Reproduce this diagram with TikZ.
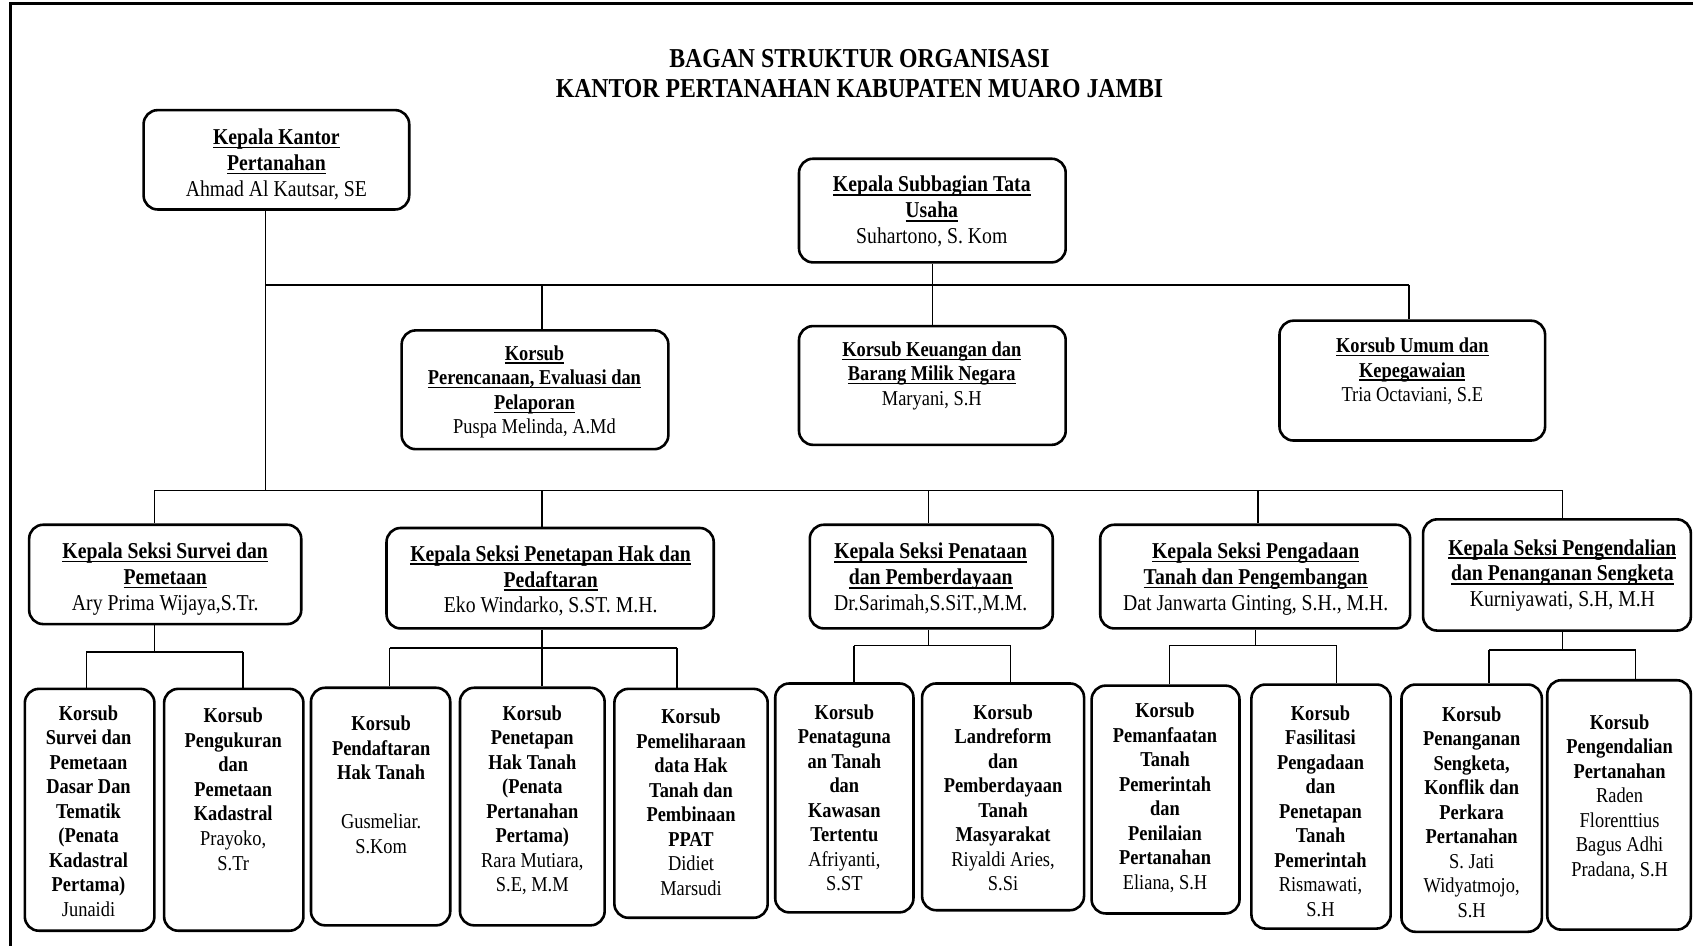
\documentclass[tikz,border=0pt]{standalone}
\usepackage{fontspec}
\setmainfont{Liberation Serif}[FakeStretch=0.87]
\newsavebox\ulbox
\newcommand\ulx[1]{\sbox\ulbox{#1}\rlap{\rule[-0.17em]{\wd\ulbox}{0.065em}}\usebox\ulbox}
\tikzset{
  box/.style={draw, line width=2.4pt, rounded corners=13pt, inner sep=0pt},
  conn/.style={line width=1.3pt},
  txta/.style={align=center, inner sep=0pt, font=\fontsize{21}{24}\selectfont},
  txtb/.style={align=center, inner sep=0pt, font=\fontsize{19.6}{22.7}\selectfont},
  ttl/.style={align=center, inner sep=0pt, font=\fontsize{25.3}{28}\selectfont\bfseries}
}
\begin{document}
\begin{tikzpicture}[x=1pt,y=-1pt]
\useasboundingbox (0,0) rectangle (1568,876);
\draw[line width=3pt] (10,876) -- (10,3) -- (1568,3);

\node[ttl] (title) at (796,68) {BAGAN STRUKTUR ORGANISASI\\KANTOR PERTANAHAN KABUPATEN MUARO JAMBI};

% top level boxes
\node[box, minimum width=246pt, minimum height=92pt] (k0) at (256,148) {};
\node[txta] (k0t) at (256,152) {\textbf{\ulx{Kepala Kantor}}\\\textbf{\ulx{Pertanahan}}\\Ahmad Al Kautsar, SE};
\node[box, minimum width=247pt, minimum height=96pt] (ks) at (863.5,195) {};
\node[txta] (kst) at (863,196) {\textbf{\ulx{Kepala Subbagian Tata}}\\\textbf{\ulx{Usaha}}\\Suhartono, S. Kom};
\node[box, minimum width=247pt, minimum height=110pt] (kp) at (495.5,361) {};
\node[txtb] (kpt) at (495,363) {\textbf{\ulx{Korsub}}\\\textbf{\ulx{Perencanaan, Evaluasi dan}}\\\textbf{\ulx{Pelaporan}}\\Puspa Melinda, A.Md};
\node[box, minimum width=247pt, minimum height=110pt] (kk) at (863.5,357) {};
\node[txtb] (kkt) at (863,348) {\textbf{\ulx{Korsub Keuangan dan}}\\\textbf{\ulx{Barang Milik Negara}}\\Maryani, S.H};
\node[box, minimum width=246pt, minimum height=111pt] (ku) at (1308,352.5) {};
\node[txtb] (kut) at (1308,344) {\textbf{\ulx{Korsub Umum dan}}\\\textbf{\ulx{Kepegawaian}}\\Tria Octaviani, S.E};

% seksi boxes
\node[box, minimum width=252pt, minimum height=92pt] (sA) at (153,532) {};
\node[txta] (sAt) at (153,536) {\textbf{\ulx{Kepala Seksi Survei dan}}\\\textbf{\ulx{Pemetaan}}\\Ary Prima Wijaya,S.Tr.};
\node[box, minimum width=303pt, minimum height=93pt] (sB) at (509.5,535.5) {};
\node[txta] (sBt) at (510,538) {\textbf{\ulx{Kepala Seksi Penetapan Hak dan}}\\\textbf{\ulx{Pedaftaran}}\\Eko Windarko, S.ST. M.H.};
\node[box, minimum width=225pt, minimum height=96pt] (sC) at (862.5,534) {};
\node[txta] (sCt) at (862,536) {\textbf{\ulx{Kepala Seksi Penataan}}\\\textbf{\ulx{dan Pemberdayaan}}\\Dr.Sarimah,S.SiT.,M.M.};
\node[box, minimum width=287pt, minimum height=96pt] (sD) at (1162.5,534) {};
\node[txta] (sDt) at (1163,536) {\textbf{\ulx{Kepala Seksi Pengadaan}}\\\textbf{\ulx{Tanah dan Pengembangan}}\\Dat Janwarta Ginting, S.H., M.H.};
\node[box, minimum width=248pt, minimum height=103pt] (sE) at (1442,532.5) {};
\node[txta] (sEt) at (1447,533) {\textbf{\ulx{Kepala Seksi Pengendalian}}\\\textbf{\ulx{dan Penanganan Sengketa}}\\Kurniyawati, S.H, M.H};

% bottom boxes
\node[box, minimum width=120pt, minimum height=224pt] (b1) at (83,750) {};
\node[txtb] (b1t) at (82,751) {\textbf{Korsub}\\\textbf{Survei dan}\\\textbf{Pemetaan}\\\textbf{Dasar Dan}\\\textbf{Tematik}\\\textbf{(Penata}\\\textbf{Kadastral}\\\textbf{Pertama)}\\Junaidi};
\node[box, minimum width=129pt, minimum height=224pt] (b2) at (216.5,750) {};
\node[txtb] (b2t) at (216,731) {\textbf{Korsub}\\\textbf{Pengukuran}\\\textbf{dan}\\\textbf{Pemetaan}\\\textbf{Kadastral}\\Prayoko,\\S.Tr};
\node[box, minimum width=129pt, minimum height=220pt] (b3) at (352.5,747) {};
\node[txtb] (b3t) at (353,727) {\textbf{Korsub}\\\textbf{Pendaftaran}\\\textbf{Hak Tanah}\\[22.7pt]Gusmeliar.\\S.Kom};
\node[box, minimum width=134pt, minimum height=220pt] (b4) at (493,747) {};
\node[txtb] (b4t) at (493,741) {\textbf{Korsub}\\\textbf{Penetapan}\\\textbf{Hak Tanah}\\\textbf{(Penata}\\\textbf{Pertanahan}\\\textbf{Pertama)}\\Rara Mutiara,\\S.E, M.M};
\node[box, minimum width=142pt, minimum height=212pt] (b5) at (640,744) {};
\node[txtb] (b5t) at (640,743) {\textbf{Korsub}\\\textbf{Pemeliharaan}\\\textbf{data Hak}\\\textbf{Tanah dan}\\\textbf{Pembinaan}\\\textbf{PPAT}\\Didiet\\Marsudi};
\node[box, minimum width=128pt, minimum height=212pt] (b6) at (782,739) {};
\node[txtb] (b6t) at (782,739) {\textbf{Korsub}\\\textbf{Penataguna}\\\textbf{an Tanah}\\\textbf{dan}\\\textbf{Kawasan}\\\textbf{Tertentu}\\Afriyanti,\\S.ST};
\node[box, minimum width=150pt, minimum height=210pt] (b7) at (929,738) {};
\node[txtb] (b7t) at (929,739) {\textbf{Korsub}\\\textbf{Landreform}\\\textbf{dan}\\\textbf{Pemberdayaan}\\\textbf{Tanah}\\\textbf{Masyarakat}\\Riyaldi Aries,\\S.Si};
\node[box, minimum width=137pt, minimum height=211pt] (b8) at (1079.5,740.5) {};
\node[txtb] (b8t) at (1079,739) {\textbf{Korsub}\\\textbf{Pemanfaatan}\\\textbf{Tanah}\\\textbf{Pemerintah}\\\textbf{dan}\\\textbf{Penilaian}\\\textbf{Pertanahan}\\Eliana, S.H};
\node[box, minimum width=129pt, minimum height=226pt] (b9) at (1223.5,747) {};
\node[txtb] (b9t) at (1223,751) {\textbf{Korsub}\\\textbf{Fasilitasi}\\\textbf{Pengadaan}\\\textbf{dan}\\\textbf{Penetapan}\\\textbf{Tanah}\\\textbf{Pemerintah}\\Rismawati,\\S.H};
\node[box, minimum width=130pt, minimum height=229pt] (b10) at (1363,748.5) {};
\node[txtb] (b10t) at (1363,752) {\textbf{Korsub}\\\textbf{Penanganan}\\\textbf{Sengketa,}\\\textbf{Konflik dan}\\\textbf{Perkara}\\\textbf{Pertanahan}\\S. Jati\\Widyatmojo,\\S.H};
\node[box, minimum width=133pt, minimum height=231pt] (b11) at (1499.5,745.5) {};
\node[txtb] (b11t) at (1500,738) {\textbf{Korsub}\\\textbf{Pengendalian}\\\textbf{Pertanahan}\\Raden\\Florenttius\\Bagus Adhi\\Pradana, S.H};

% connectors level 1
\coordinate (j11) at (246,264);
\coordinate (j12) at (502,264);
\coordinate (j14) at (1305,264);
\coordinate (j20) at (246,454);
\draw[conn] (k0.south -| j11) -- (j20);
\draw[conn] (j11) -- (j14);
\draw[conn] (j12) -- (j12 |- kp.north);
\draw[conn] (ks.south) -- (kk.north);
\draw[conn] (j14) -- (j14 |- ku.north);

% connectors level 2
\coordinate (j21) at (143,454);
\coordinate (j22) at (502,454);
\coordinate (j23) at (860,454);
\coordinate (j24) at (1165,454);
\coordinate (j25) at (1447,454);
\draw[conn] (j21) -- (j25);
\draw[conn] (j21) -- (j21 |- sA.north);
\draw[conn] (j22) -- (j22 |- sB.north);
\draw[conn] (j23) -- (j23 |- sC.north);
\draw[conn] (j24) -- (j24 |- sD.north);
\draw[conn] (j25) -- (j25 |- sE.north);

% connectors level 3
\coordinate (a0) at (143,604);
\coordinate (a1) at (80,604);
\coordinate (a2) at (225,604);
\draw[conn] (sA.south -| a0) -- (a0);
\draw[conn] (a1) -- (a2);
\draw[conn] (a1) -- (a1 |- b1.north);
\draw[conn] (a2) -- (a2 |- b2.north);

\coordinate (bb0) at (502,600);
\coordinate (bb1) at (361,600);
\coordinate (bb2) at (627,600);
\draw[conn] (sB.south -| bb0) -- (bb0 |- b4.north);
\draw[conn] (bb1) -- (bb2);
\draw[conn] (bb1) -- (bb1 |- b3.north);
\draw[conn] (bb2) -- (bb2 |- b5.north);

\coordinate (c0) at (860,598);
\coordinate (c1) at (791,598);
\coordinate (c2) at (936,598);
\draw[conn] (sC.south -| c0) -- (c0);
\draw[conn] (c1) -- (c2);
\draw[conn] (c1) -- (c1 |- b6.north);
\draw[conn] (c2) -- (c2 |- b7.north);

\coordinate (d0) at (1163,598);
\coordinate (d1) at (1083,598);
\coordinate (d2) at (1238,598);
\draw[conn] (sD.south -| d0) -- (d0);
\draw[conn] (d1) -- (d2);
\draw[conn] (d1) -- (d1 |- b8.north);
\draw[conn] (d2) -- (d2 |- b9.north);

\coordinate (e0) at (1447,602);
\coordinate (e1) at (1379,602);
\coordinate (e2) at (1515,602);
\draw[conn] (sE.south -| e0) -- (e0);
\draw[conn] (e1) -- (e2);
\draw[conn] (e1) -- (e1 |- b10.north);
\draw[conn] (e2) -- (e2 |- b11.north);
\end{tikzpicture}
\end{document}
